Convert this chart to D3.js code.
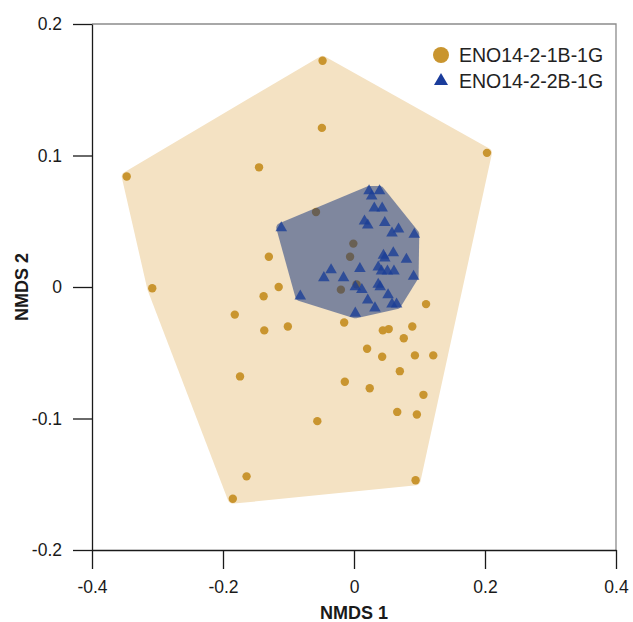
<!DOCTYPE html>
<html>
<head>
<meta charset="utf-8">
<script src="https://cdn.jsdelivr.net/npm/d3@7"></script>
<style>
  body { margin: 0; background: #fff; }
  text { font-family: "Liberation Sans", Arial, sans-serif; }
</style>
</head>
<body>
<div id="chart"></div>
<script>
// series names (legend)
const seriesNames = ['ENO14-2-1B-1G', 'ENO14-2-2B-1G'];
const xTicks = [-0.4, -0.2, 0, 0.2, 0.4];
const yTicks = [-0.2, -0.1, 0, 0.1, 0.2];

// NMDS scores, [NMDS1, NMDS2]
const group1 = [
  [-0.048, 0.172], [-0.049, 0.121], [0.203, 0.102], [-0.347, 0.084], [-0.145, 0.091],
  [-0.130, 0.023], [-0.058, 0.057], [-0.001, 0.033], [-0.006, 0.023], [-0.308, -0.001],
  [-0.115, 0.000], [-0.138, -0.007], [-0.182, -0.021], [-0.137, -0.033], [-0.101, -0.030],
  [-0.015, -0.027], [-0.020, -0.002], [0.004, 0.002], [0.110, -0.013], [0.044, -0.033],
  [0.053, -0.032], [0.089, -0.030], [0.076, -0.039], [0.020, -0.047], [0.043, -0.053],
  [0.093, -0.052], [0.121, -0.052], [0.070, -0.064], [-0.174, -0.068], [-0.014, -0.072],
  [0.024, -0.077], [0.106, -0.082], [0.066, -0.095], [0.096, -0.097], [-0.056, -0.102],
  [-0.164, -0.144], [0.094, -0.147], [-0.185, -0.161]
];
const group2 = [
  [-0.111, 0.045], [-0.035, 0.013], [-0.046, 0.007], [-0.016, 0.007], [-0.082, -0.007],
  [0.023, 0.073], [0.039, 0.073], [0.027, 0.069], [0.031, 0.060], [0.043, 0.060],
  [0.016, 0.050], [0.021, 0.047], [0.047, 0.049], [0.058, 0.041], [0.068, 0.044],
  [0.092, 0.040], [0.045, 0.024], [0.047, 0.022], [0.060, 0.026], [0.080, 0.021],
  [0.009, 0.014], [0.037, 0.015], [0.042, 0.012], [0.051, 0.012], [0.061, 0.012],
  [0.091, 0.008], [0.037, 0.002], [0.040, 0.000], [0.002, 0.000], [0.012, -0.002],
  [0.052, -0.006], [0.021, -0.010], [0.058, -0.013], [0.065, -0.013], [0.032, -0.016],
  [0.002, -0.020]
];

const w = 633, h = 622;
const pLeft = 92, pRight = 616, pTop = 24, pBottom = 550;

const svg = d3.select('#chart').append('svg')
  .attr('width', w)
  .attr('height', h);

const xScale = d3.scaleLinear().domain([-0.4, 0.4]).range([pLeft, pRight]);
const yScale = d3.scaleLinear().domain([-0.2, 0.2]).range([pBottom, pTop]);

//convex hull around the markers (a few px of padding round each point)
function paddedHull(pts, r) {
  const ring = [];
  pts.forEach(p => {
    const px = xScale(p[0]), py = yScale(p[1]);
    for (let k = 0; k < 32; k++) {
      const a = k / 32 * 2 * Math.PI;
      ring.push([px + r * Math.cos(a), py + r * Math.sin(a)]);
    }
  });
  return d3.polygonHull(ring);
}

// group 1 hull + points
svg.append('path')
  .attr('d', 'M' + paddedHull(group1, 5).join('L') + 'Z')
  .attr('fill', '#f4e2c3');

svg.append('g').selectAll('circle')
  .data(group1)
  .enter()
  .append('circle')
  .attr('cx', d => xScale(d[0]))
  .attr('cy', d => yScale(d[1]))
  .attr('r', 4.2)
  .attr('fill', '#c9952f');

// group 2 hull sits over the orange points
svg.append('path')
  .attr('d', 'M' + paddedHull(group2, 5).join('L') + 'Z')
  .attr('fill', '#092b79')
  .attr('fill-opacity', 0.5);

const tri = d3.symbol().type(d3.symbolTriangle).size(58);
svg.append('g').selectAll('path')
  .data(group2)
  .enter()
  .append('path')
  .attr('d', tri)
  .attr('transform', d => 'translate(' + xScale(d[0]) + ',' + yScale(d[1]) + ')')
  .attr('fill', '#1b3e96')
  .attr('fill-opacity', 0.8);

// frame (top/right)
svg.append('path')
  .attr('d', `M${pLeft},${pTop}H${pRight}V${pBottom}`)
  .attr('fill', 'none')
  .attr('stroke', '#8c8c8c')
  .attr('stroke-width', 1.3);

const fmt = d => d === 0 ? '0' : String(d);

const xAxis = svg.append('g')
  .attr('transform', `translate(0,${pBottom})`)
  .call(d3.axisBottom(xScale).tickValues(xTicks).tickFormat(fmt)
    .tickSize(19).tickSizeOuter(0).tickPadding(12));
const yAxis = svg.append('g')
  .attr('transform', `translate(${pLeft},0)`)
  .call(d3.axisLeft(yScale).tickValues(yTicks).tickFormat(fmt)
    .tickSize(19).tickSizeOuter(0).tickPadding(11));

[xAxis, yAxis].forEach(ax => {
  ax.selectAll('path, line').attr('stroke', '#1a1a1a').attr('stroke-width', 1.3);
  ax.selectAll('text').attr('fill', '#1a1a1a').style('font-size', '17.5px')
    .style('font-family', '"Liberation Sans", Arial, sans-serif');
});

// axis titles
svg.append('text')
  .attr('x', (pLeft + pRight) / 2)
  .attr('y', 619)
  .attr('text-anchor', 'middle')
  .style('font-size', '18px')
  .style('font-weight', 'bold')
  .attr('fill', '#1a1a1a')
  .text('NMDS 1');

svg.append('text')
  .attr('transform', `translate(28,${(pTop + pBottom) / 2}) rotate(-90)`)
  .attr('text-anchor', 'middle')
  .style('font-size', '18px')
  .style('font-weight', 'bold')
  .attr('fill', '#1a1a1a')
  .text('NMDS 2');

// legend
const legend = svg.append('g').attr('transform', 'translate(441,55)');
legend.append('circle')
  .attr('cx', 0).attr('cy', 0).attr('r', 8)
  .attr('fill', '#c9952f');
legend.append('path')
  .attr('d', d3.symbol().type(d3.symbolTriangle).size(85))
  .attr('transform', 'translate(0,26)')
  .attr('fill', '#1a3c9b');
legend.selectAll('text')
  .data(seriesNames)
  .enter()
  .append('text')
  .attr('x', 18)
  .attr('y', (d, i) => i * 26)
  .attr('dy', '0.35em')
  .style('font-size', '19.5px')
  .attr('fill', '#222')
  .text(d => d);
</script>
</body>
</html>
